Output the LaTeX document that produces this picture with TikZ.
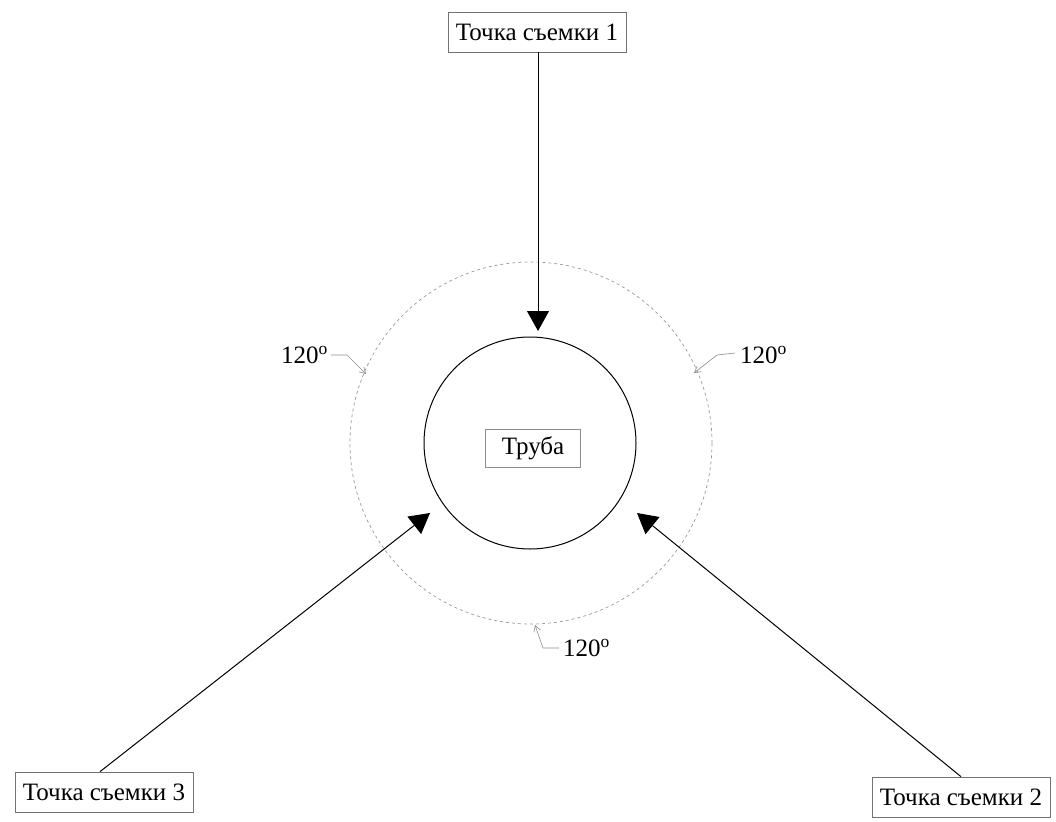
\documentclass[tikz,border=0pt]{standalone}
\usepackage{fontspec}
\setmainfont{Liberation Serif}
\usetikzlibrary{arrows.meta}
\begin{document}
\begin{tikzpicture}[x=1pt,y=-1pt,
  lbl/.style={draw=black!55,line width=0.7pt,inner xsep=8pt,inner ysep=0pt,minimum height=40pt,font=\fontsize{25}{28}\selectfont},
  shot/.style={line width=1pt,-{Triangle[length=20pt,width=22pt]}},
  deg/.style={font=\fontsize{25}{28}\selectfont,inner sep=0pt},
  lead/.style={draw=black!45,line width=0.6pt,-{Straight Barb[length=6pt,width=7pt]}}]
\useasboundingbox (0,0) rectangle (1056,821);
% circles
\node[draw,circle,line width=1pt,minimum size=212pt,inner sep=0pt] (pipe) at (530,443) {};
\node[draw=black!40,dashed,circle,line width=0.7pt,minimum size=362pt,inner sep=0pt] (ring) at (531,443) {};
\node[lbl,draw=black!45,minimum height=38pt,inner xsep=16pt] (tube) at (533,448) {Труба};
% shooting points
\node[lbl] (p1) at (537,32) {Точка съемки 1};
\node[lbl] (p3) at (104,792) {Точка съемки 3};
\node[lbl] (p2) at (961,797) {Точка съемки 2};
\coordinate (t1) at (538,331);
\coordinate (t3) at (430,513);
\coordinate (t2) at (637,513);
\draw[shot] (p1.south -| t1) -- (t1);
\draw[shot] (p3.north) ++(-4,0) -- (t3);
\draw[shot] (p2.north) -- (t2);
% 120 degree labels
\node[deg,anchor=east] (a1) at (328,355) {120$^{\mathrm o}$};
\node[deg,anchor=west] (a2) at (740,355) {120$^{\mathrm o}$};
\node[deg,anchor=west] (a3) at (563,648) {120$^{\mathrm o}$};
\coordinate (m1) at (366,374);
\coordinate (m2) at (694,373);
\coordinate (m3) at (535,625);
\draw[lead] (a1.east) ++(3,0) -- ++(16,0) -- (m1);
\draw[lead] (a2.west) ++(-5,-2) -- ++(-18,2) -- (m2);
\draw[lead] (a3.west) ++(-4,0) -- ++(-16,0) -- (m3);
\end{tikzpicture}
\end{document}
